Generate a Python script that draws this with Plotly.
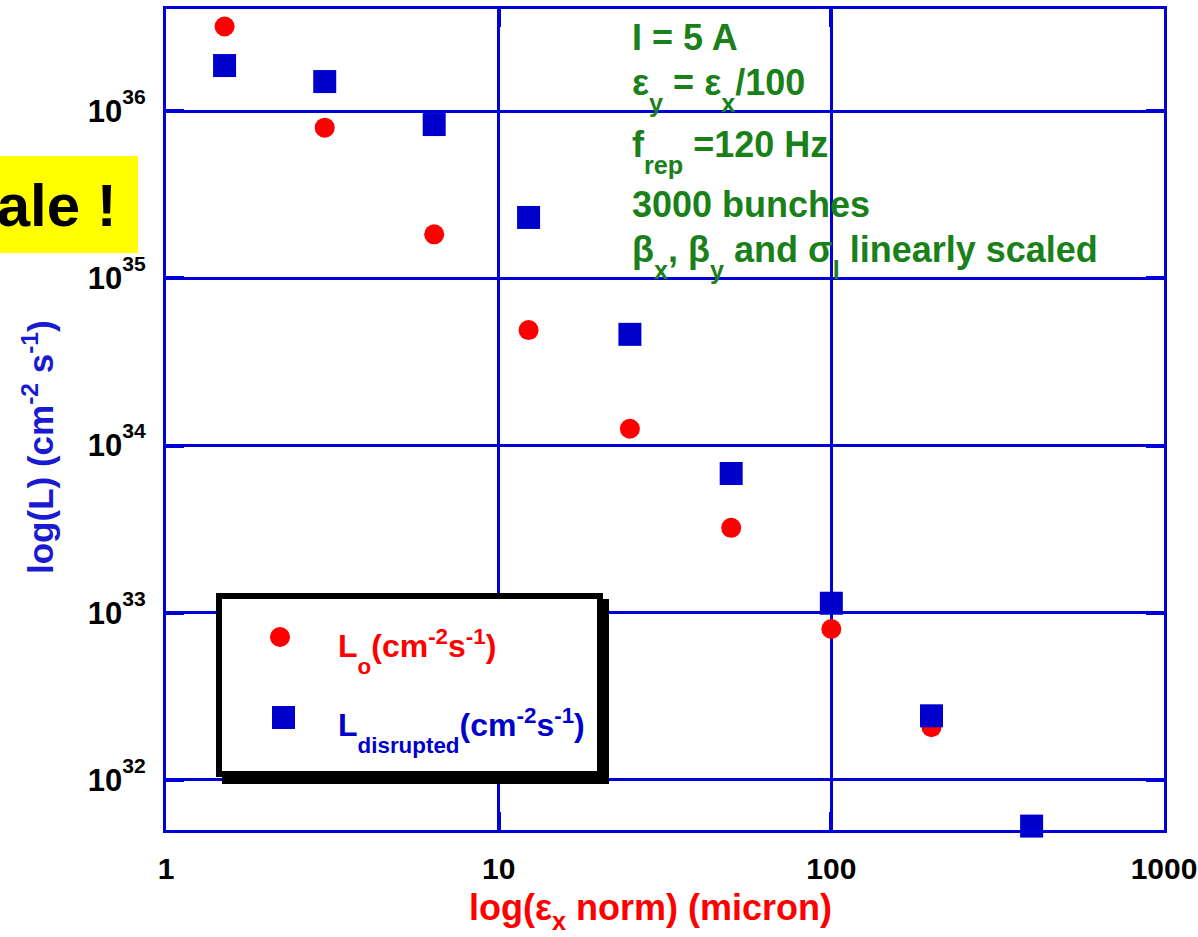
import plotly.graph_objects as go

# ---- data ----
x_lo = [1.5, 3.0, 6.4, 12.3, 24.8, 50, 100, 200]
L_lo = [3.2e36, 7.95e35, 1.83e35, 4.9e34, 1.26e34, 3.22e33, 8.0e32, 2.07e32]

x_dis = [1.5, 3.0, 6.4, 12.3, 24.8, 50, 100, 200, 400]
L_dis = [1.87e36, 1.50e36, 8.3e35, 2.31e35, 4.62e34, 6.8e33, 1.14e33, 2.42e32, 5.3e31]

x_tickvals = [1, 10, 100, 1000]
x_ticktext = ["1", "10", "100", "1000"]
y_exponents = [32, 33, 34, 35, 36]


def sub(t, drop):
    return '<span style="baseline-shift:-%dpx;font-size:70%%">%s</span>' % (drop, t)


def sup(t, rise):
    return '<span style="baseline-shift:%dpx;font-size:68%%">%s</span>' % (rise, t)


y_tickvals = [10.0 ** e for e in y_exponents]
y_ticktext = ["10" + sup(str(e), 18) for e in y_exponents]

notes = [
    "I = 5 A",
    "ε" + sub("y", 17) + " = ε" + sub("x", 17) + "/100",
    "f" + sub("rep", 17) + " =120 Hz",
    "3000 bunches",
    "β" + sub("x", 17) + ", β" + sub("y", 17) + " and σ" + sub("l", 17) + " linearly scaled",
]
note_baselines = [50, 95, 157, 217, 262]

# ---- styling ----
W, H = 1198, 937
ML, MR, MT, MB = 166, 34, 9, 107
PW, PH = W - ML - MR, H - MT - MB
FONT = "Liberation Sans, Arial, sans-serif"
RED = "#ff0000"
BLUE = "#0000cc"
GRID = "#0000d8"
GREEN = "#1a801a"


def px(x):
    return (x - ML) / PW


def py(y):
    return (H - MB - y) / PH


fig = go.Figure()
fig.add_trace(go.Scatter(
    x=x_lo, y=L_lo, mode="markers", name="L<sub>o</sub>",
    marker=dict(symbol="circle", size=20, color=RED), cliponaxis=False,
    showlegend=False))
fig.add_trace(go.Scatter(
    x=x_dis, y=L_dis, mode="markers", name="L<sub>disrupted</sub>",
    marker=dict(symbol="square", size=23, color=BLUE), cliponaxis=False,
    showlegend=False))

axis_common = dict(
    type="log", showgrid=True, gridcolor=GRID, gridwidth=3,
    showline=True, linecolor=GRID, linewidth=3, mirror="ticks",
    ticks="inside", ticklen=18, tickwidth=4, tickcolor=GRID,
    zeroline=False,
)

fig.update_xaxes(range=[0, 3], tickvals=x_tickvals, ticktext=x_ticktext,
                 ticklabelstandoff=10,
                 tickfont=dict(family=FONT, size=30, color="black", weight="bold"),
                 **axis_common)
fig.update_yaxes(range=[31.701, 36.61], tickvals=y_tickvals, ticktext=y_ticktext,
                 ticklabelstandoff=11,
                 tickfont=dict(family=FONT, size=31, color="black", weight="bold"),
                 **axis_common)

shapes = []
annotations = []

# "Not to scale !" label, cropped at the left edge
shapes.append(dict(type="rect", xref="paper", yref="paper",
                   x0=px(-10), x1=px(138), y0=py(253), y1=py(156),
                   fillcolor="#ffff00", line=dict(width=0), layer="above"))
annotations.append(dict(xref="paper", yref="paper", x=px(119), y=py(206),
                        xanchor="right", yanchor="middle", showarrow=False,
                        text="Not to scale !",
                        font=dict(family=FONT, size=60, color="black", weight="bold")))

# axis titles
annotations.append(dict(xref="paper", yref="paper", x=px(38), y=py(447),
                        xanchor="center", yanchor="middle", showarrow=False,
                        textangle=-90,
                        text="log(L) (cm<sup>-2</sup> s<sup>-1</sup>)",
                        font=dict(family=FONT, size=35, color="#1a1ad0", weight="bold")))
annotations.append(dict(xref="paper", yref="paper", x=px(650), y=py(885),
                        xanchor="center", yanchor="top", showarrow=False,
                        text="log(ε" + sub("x", 10) + " norm) (micron)",
                        font=dict(family=FONT, size=36, color=RED, weight="bold")))

# green notes
for t, b in zip(notes, note_baselines):
    annotations.append(dict(xref="paper", yref="paper", x=px(630), y=py(b - 34.6),
                            xanchor="left", yanchor="top", showarrow=False,
                            text=t,
                            font=dict(family=FONT, size=36, color=GREEN, weight="bold")))

# legend box with drop shadow
shapes.append(dict(type="rect", xref="paper", yref="paper",
                   x0=px(222), x1=px(609), y0=py(784), y1=py(599),
                   fillcolor="black", line=dict(width=0), layer="above"))
shapes.append(dict(type="rect", xref="paper", yref="paper",
                   x0=px(219), x1=px(600), y0=py(774), y1=py(596),
                   fillcolor="white", line=dict(color="black", width=6), layer="above"))
shapes.append(dict(type="circle", xref="paper", yref="paper",
                   x0=px(270), x1=px(290), y0=py(647), y1=py(627),
                   fillcolor=RED, line=dict(width=0), layer="above"))
shapes.append(dict(type="rect", xref="paper", yref="paper",
                   x0=px(272), x1=px(295), y0=py(729), y1=py(706),
                   fillcolor=BLUE, line=dict(width=0), layer="above"))
annotations.append(dict(xref="paper", yref="paper", x=px(336), y=py(622),
                        xanchor="left", yanchor="top", showarrow=False,
                        text="L" + sub("o", 17) + "(cm<sup>-2</sup>s<sup>-1</sup>)",
                        font=dict(family=FONT, size=32, color=RED, weight="bold")))
annotations.append(dict(xref="paper", yref="paper", x=px(336), y=py(701),
                        xanchor="left", yanchor="top", showarrow=False,
                        text="L" + sub("disrupted", 17) + "(cm<sup>-2</sup>s<sup>-1</sup>)",
                        font=dict(family=FONT, size=32, color=BLUE, weight="bold")))

fig.update_layout(
    width=W, height=H,
    margin=dict(l=ML, r=MR, t=MT, b=MB, autoexpand=False),
    paper_bgcolor="white", plot_bgcolor="white",
    showlegend=False,
    shapes=shapes, annotations=annotations,
    font=dict(family=FONT),
)

fig.write_html("out.html", config={"displayModeBar": False},
               post_script="document.body.style.margin='0';")
